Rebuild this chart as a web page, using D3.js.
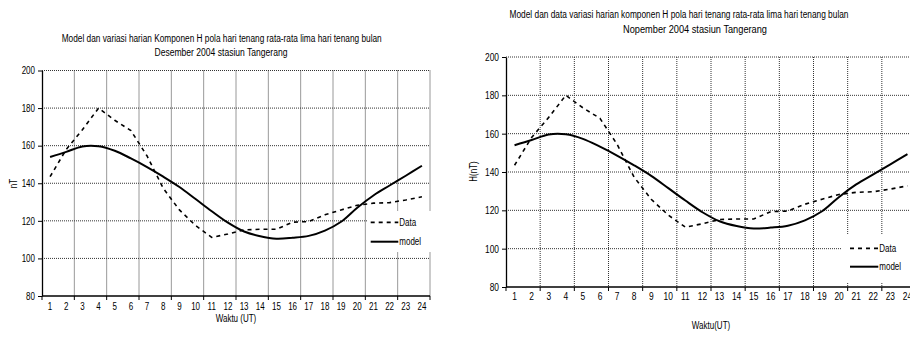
<!DOCTYPE html>
<html>
<head>
<meta charset="utf-8">
<script src="https://cdn.jsdelivr.net/npm/d3@7"></script>
<style>
  body { margin: 0; background: #fff; }
  svg { display: block; }
  text { font-family: 'Liberation Sans', Arial, sans-serif; fill: #000; }
</style>
</head>
<body>
<div id="chart"></div>
<script>
// hours (UT)
var hours = [1, 2, 3, 4, 5, 6, 7, 8, 9, 10, 11, 12, 13, 14, 15, 16, 17, 18, 19, 20, 21, 22, 23, 24];

// observed H component (nT), mean of five quiet days
var dataH = [143.5, 158, 168.5, 180, 173.5, 168, 154.5, 137.3, 125.8, 117.5, 111.2, 113,
             115.2, 115.5, 115.5, 119.3, 119.6, 123.2, 125.8, 128.3, 129.4, 129.7, 131.1, 132.8];

// model H component (nT)
var modelH = [154, 156.7, 159.6, 159.7, 157.3, 153.2, 148.6, 143.5, 138, 131.6, 125.1, 119,
              114.3, 111.8, 110.5, 111, 112, 114.8, 119.5, 127, 133.5, 138.8, 144, 149.3];

var yTicks = [80, 100, 120, 140, 160, 180, 200];

var svg = d3.select('#chart')
  .append('svg')
  .attr('width', 910)
  .attr('height', 338);

// the original uses a narrow face; squeeze regular glyphs instead
function narrow(sel, k) {
  sel.each(function() {
    var w = this.getComputedTextLength();
    d3.select(this)
      .attr('textLength', w * (k || 0.82))
      .attr('lengthAdjust', 'spacingAndGlyphs');
  });
}

// two panels, same data
var panels = [
  {
    left: 42, right: 430, top: 70.5, bottom: 296, fs: 10,
    title: ['Model dan variasi harian Komponen H pola hari tenang rata-rata lima hari tenang bulan',
            'Desember 2004 stasiun Tangerang'],
    titleX: [221.7, 221], titleY: [42, 56.3], titleW: [320, 133],
    yLabel: 'nT', yLabelX: 13.3, yLabelY: 183.5,
    xLabel: 'Waktu (UT)', xLabelY: 321.5, xTickY: 310,
    legend: {x: 367, y: 211, w: 66, h: 41, x0: 370.7, x1: 398.3, rows: [222.3, 241.7]}
  },
  {
    left: 506, right: 916, top: 57, bottom: 287, fs: 10.5,
    title: ['Model dan data variasi harian komponen H pola hari tenang rata-rata lima hari tenang bulan',
            'Nopember 2004 stasiun Tangerang'],
    titleX: [679, 695], titleY: [18.3, 33.3], titleW: [339, 144],
    yLabel: 'H(nT)', yLabelX: 473.5, yLabelY: 171.5,
    xLabel: 'Waktu(UT)', xLabelY: 329, xTickY: 300,
    legend: {x: 842, y: 235, w: 74, h: 48, x0: 850, x1: 878.3, rows: [248.3, 266.7]}
  }
];

panels.forEach(function(p) {
  var g = svg.append('g');

  var x = d3.scaleBand()
    .domain(hours)
    .range([p.left, p.right])
    .paddingInner(0)
    .paddingOuter(0);

  var y = d3.scaleLinear()
    .domain([80, 200])
    .range([p.bottom, p.top]);

  var bw = x.bandwidth();

  // titles
  p.title.forEach(function(t, i) {
    g.append('text')
      .attr('x', p.titleX[i])
      .attr('y', p.titleY[i])
      .attr('text-anchor', 'middle')
      .attr('font-size', 10)
      .attr('textLength', p.titleW[i])
      .attr('lengthAdjust', 'spacingAndGlyphs')
      .text(t);
  });

  // horizontal gridlines
  g.selectAll('.hgrid')
    .data(yTicks.filter(function(d) { return d > 80; }))
    .enter()
    .append('line')
    .attr('x1', p.left)
    .attr('x2', p.right)
    .attr('y1', function(d) { return y(d); })
    .attr('y2', function(d) { return y(d); })
    .attr('stroke', '#333')
    .attr('stroke-width', 1)
    .attr('stroke-dasharray', '1,1');

  // vertical gridlines every two hours
  var even = hours.filter(function(h) { return h % 2 === 0; });
  g.selectAll('.vgrid')
    .data(even)
    .enter()
    .append('line')
    .attr('x1', function(d) { return x(d) + bw; })
    .attr('x2', function(d) { return x(d) + bw; })
    .attr('y1', p.top)
    .attr('y2', p.bottom)
    .attr('stroke', '#333')
    .attr('stroke-width', 1)
    .attr('stroke-dasharray', '1,1');

  // lines
  var dataLine = d3.line()
    .x(function(d, i) { return x(hours[i]) + bw / 2; })
    .y(function(d) { return y(d); });

  var modelLine = d3.line()
    .curve(d3.curveCatmullRom.alpha(0.5))
    .x(function(d, i) { return x(hours[i]) + bw / 2; })
    .y(function(d) { return y(d); });

  g.append('path')
    .datum(dataH)
    .attr('d', dataLine)
    .attr('fill', 'none')
    .attr('stroke', '#000')
    .attr('stroke-width', 1.6)
    .attr('stroke-dasharray', '4,4');

  g.append('path')
    .datum(modelH)
    .attr('d', modelLine)
    .attr('fill', 'none')
    .attr('stroke', '#000')
    .attr('stroke-width', 2);

  // y axis
  var leftAxis = d3.axisLeft(y)
    .tickValues(yTicks)
    .tickSizeInner(4)
    .tickSizeOuter(0)
    .tickPadding(3);

  var ya = g.append('g')
    .attr('transform', 'translate(' + p.left + ',0)')
    .call(leftAxis);
  ya.select('.domain').attr('stroke', '#000').attr('stroke-width', 1.3);
  ya.selectAll('.tick line').attr('stroke', '#000');
  ya.selectAll('.tick text')
    .attr('font-size', p.fs)
    .style('font-family', "'Liberation Sans',Arial,sans-serif")
    .call(narrow, 0.8);

  // x axis
  var bottomAxis = d3.axisBottom(x)
    .tickSize(0)
    .tickPadding(0);

  var xa = g.append('g')
    .attr('transform', 'translate(0,' + p.bottom + ')')
    .call(bottomAxis);
  xa.select('.domain').remove();
  xa.selectAll('.tick text')
    .attr('y', p.xTickY - p.bottom)
    .attr('dy', 0)
    .attr('font-size', p.fs)
    .style('font-family', "'Liberation Sans',Arial,sans-serif")
    .call(narrow, 0.8);

  g.append('line')
    .attr('x1', p.left)
    .attr('x2', p.right)
    .attr('y1', p.bottom)
    .attr('y2', p.bottom)
    .attr('stroke', '#000')
    .attr('stroke-width', 1.3);

  g.selectAll('.xtick')
    .data([hours[0]].concat(even))
    .enter()
    .append('line')
    .attr('x1', function(d) { return d === hours[0] ? x(d) : x(d) + bw; })
    .attr('x2', function(d) { return d === hours[0] ? x(d) : x(d) + bw; })
    .attr('y1', p.bottom)
    .attr('y2', p.bottom + 4)
    .attr('stroke', '#000');

  // axis labels
  g.append('text')
    .attr('x', (p.left + p.right) / 2)
    .attr('y', p.xLabelY)
    .attr('text-anchor', 'middle')
    .attr('font-size', 10)
    .text(p.xLabel)
    .call(narrow, 0.8);

  g.append('text')
    .attr('transform', 'translate(' + p.yLabelX + ',' + p.yLabelY + ') rotate(-90)')
    .attr('text-anchor', 'middle')
    .attr('dy', '0.35em')
    .attr('font-size', 10)
    .text(p.yLabel)
    .call(narrow, 0.8);

  // legend
  var L = p.legend;
  g.append('rect')
    .attr('x', L.x)
    .attr('y', L.y)
    .attr('width', L.w)
    .attr('height', L.h)
    .attr('fill', '#fff');

  var items = [
    {name: 'Data', dash: '4,4', w: 1.8},
    {name: 'model', dash: null, w: 2}
  ];

  items.forEach(function(it, i) {
    g.append('line')
      .attr('x1', L.x0)
      .attr('x2', L.x1)
      .attr('y1', L.rows[i])
      .attr('y2', L.rows[i])
      .attr('stroke', '#000')
      .attr('stroke-width', it.w)
      .attr('stroke-dasharray', it.dash);

    g.append('text')
      .attr('x', L.x1 + 1)
      .attr('y', L.rows[i])
      .attr('dy', '0.35em')
      .attr('font-size', 10)
      .text(it.name)
      .call(narrow, 0.8);
  });
});
</script>
</body>
</html>
